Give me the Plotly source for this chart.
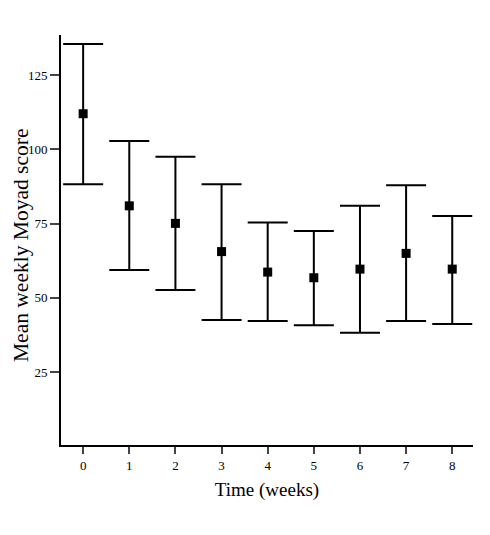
import plotly.graph_objects as go

weeks = [0, 1, 2, 3, 4, 5, 6, 7, 8]
mean_score = [112, 81, 75.1, 65.6, 58.7, 56.8, 59.7, 65.0, 59.7]
upper = [135.5, 102.8, 97.5, 88.3, 75.4, 72.5, 81.0, 87.9, 77.6]
lower = [88.3, 59.4, 52.7, 42.6, 42.2, 40.8, 38.3, 42.2, 41.2]
y_ticks = [25, 50, 75, 100, 125]

err_plus = [u - m for u, m in zip(upper, mean_score)]
err_minus = [m - l for m, l in zip(mean_score, lower)]

font_family = "Liberation Serif, Times New Roman, serif"

fig = go.Figure(go.Scatter(
    x=weeks, y=mean_score, mode="markers",
    marker=dict(symbol="square", size=9, color="black"),
    error_y=dict(type="data", symmetric=False, array=err_plus, arrayminus=err_minus,
                 color="black", thickness=2, width=20),
    showlegend=False,
))

fig.update_layout(
    width=490, height=535,
    margin=dict(l=53, r=25, t=27, b=98),
    plot_bgcolor="white", paper_bgcolor="white",
    font=dict(family=font_family, color="black"),
    xaxis=dict(
        range=[-0.48, 8.45], tickvals=weeks, ticks="outside", ticklen=7, tickwidth=2,
        showline=True, linecolor="black", linewidth=2, showgrid=False, zeroline=False,
        automargin=False,
        tickfont=dict(size=13, family=font_family),
        title=dict(text="Time (weeks)", font=dict(size=19, family=font_family), standoff=11),
    ),
    yaxis=dict(
        range=[0.5, 138.5], tickvals=y_ticks, ticks="outside", ticklen=9, tickwidth=2,
        showline=True, linecolor="black", linewidth=2, showgrid=False, zeroline=False,
        automargin=False,
        tickfont=dict(size=13, family=font_family),
    ),
    annotations=[dict(
        text="Mean weekly Moyad score", xref="paper", yref="paper", x=0, y=0.5,
        xanchor="center", yanchor="middle", textangle=-90, showarrow=False,
        xshift=-40, yshift=-6, font=dict(size=21.5, family=font_family, color="black"),
    )],
)

fig.write_html("out.html")
